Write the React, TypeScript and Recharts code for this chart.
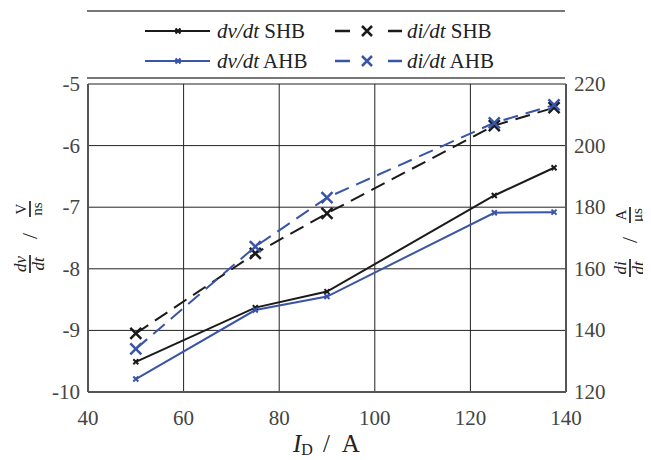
import React from "react";
import { LineChart, Line, XAxis, YAxis, CartesianGrid, Label } from "recharts";

// drain current (A)
const current = [50, 75, 90, 125, 137.5];
// dv/dt in V/ns
const dvSHB = [-9.51, -8.63, -8.37, -6.81, -6.36];
const dvAHB = [-9.79, -8.67, -8.45, -7.09, -7.08];
// di/dt in A/us
const diSHB = [139, 165, 178, 206.5, 212.3];
const diAHB = [134, 167.2, 183.1, 207.4, 213.2];

const xTicks = [40, 60, 80, 100, 120, 140];
const dvTicks = [-10, -9, -8, -7, -6, -5];
const diTicks = [120, 140, 160, 180, 200, 220];

const data = current.map((c, i) => ({
  current: c,
  dvSHB: dvSHB[i],
  dvAHB: dvAHB[i],
  diSHB: diSHB[i],
  diAHB: diAHB[i],
}));

const BLACK = "#1a1a1a";
const BLUE = "#3a54a6";
const FONT = "Liberation Serif, DejaVu Serif, serif";

const crossDot = (size: number, color: string, width: number) => (props: any) => {
  const { cx, cy, index } = props;
  if (cx == null || cy == null) return <g key={index} />;
  return (
    <path
      key={index}
      d={`M${cx - size},${cy - size}L${cx + size},${cy + size}M${cx - size},${cy + size}L${cx + size},${cy - size}`}
      stroke={color}
      strokeWidth={width}
      fill="none"
    />
  );
};

// tick text renderers
const tickText = (anchor: string, dx: number, dy: number) => (props: any) => {
  const { x, y, payload } = props;
  return (
    <text x={x + dx} y={y + dy} textAnchor={anchor} fontFamily={FONT} fontSize={21} fill="#444">
      {payload.value}
    </text>
  );
};

// vertical fraction label, drawn rotated -90deg around (cx, cy)
const FracLabel = ({ cx, cy, num, den, unum, uden, fx, ux }: any) => (
  <g transform={`translate(${cx},${cy}) rotate(-90)`} fontFamily={FONT} fill="#222">
    <text x={fx} y={-4} textAnchor="middle" fontStyle="italic" fontSize={17}>{num}</text>
    <line x1={fx - 9} x2={fx + 9} y1={0} y2={0} stroke="#222" strokeWidth={1.7} />
    <text x={fx} y={14} textAnchor="middle" fontStyle="italic" fontSize={17}>{den}</text>
    <text x={0} y={7} textAnchor="middle" fontSize={22}>/</text>
    <text x={ux} y={-4} textAnchor="middle" fontSize={15}>{unum}</text>
    <line x1={ux - 8} x2={ux + 8} y1={0} y2={0} stroke="#222" strokeWidth={1.7} />
    <text x={ux} y={12} textAnchor="middle" fontSize={15}>{uden}</text>
  </g>
);

const LegendItem = ({ color, dashed, name, unit }: any) => (
  <div style={{ display: "flex", alignItems: "center", height: 30 }}>
    <svg width={72} height={20}>
      {dashed ? (
        <g stroke={color} strokeWidth={2.5}>
          <line x1={2} x2={17} y1={10} y2={10} />
          <path d="M29,5L39,15M29,15L39,5" />
          <line x1={55} x2={69} y1={10} y2={10} />
        </g>
      ) : (
        <g stroke={color} strokeWidth={2.2}>
          <line x1={2} x2={67} y1={10} y2={10} />
          <path d="M32.5,7.5L37.5,12.5M32.5,12.5L37.5,7.5" />
        </g>
      )}
    </svg>
    <span style={{ fontFamily: FONT, fontSize: 21, color: "#222", marginLeft: 2 }}>
      <i>{unit}</i> {name}
    </span>
  </div>
);

export default function App() {
  return (
    <div style={{ position: "relative", width: 643, height: 452, fontFamily: FONT }}>
      <LineChart
        width={643}
        height={452}
        data={data}
        margin={{ top: 76, right: 25, left: 20, bottom: 5 }}
      >
        <CartesianGrid yAxisId="left" stroke="#222" strokeWidth={1} horizontalValues={dvTicks} verticalValues={xTicks} />
        <XAxis
          dataKey="current"
          type="number"
          domain={[40, 140]}
          ticks={xTicks}
          height={63}
          tickLine={false}
          axisLine={{ stroke: "#555", strokeWidth: 2 }}
          tick={tickText("middle", 0, 25)}
        >
          <Label
            content={() => (
              <text x={285} y={444} fontFamily={FONT} fontSize={25} fill="#222">
                <tspan fontStyle="italic">I</tspan>
                <tspan fontSize={16} dy={3}>D</tspan>
                <tspan dy={-3} dx={10}>/</tspan>
                <tspan dx={12}>A</tspan>
              </text>
            )}
          />
        </XAxis>
        <YAxis
          yAxisId="left"
          domain={[-10, -5]}
          ticks={dvTicks}
          width={60}
          tickLine={false}
          axisLine={{ stroke: "#555", strokeWidth: 2 }}
          tick={tickText("end", 0, 7)}
        >
          <Label
            content={() => (
              <FracLabel cx={22} cy={228} num="dv" den="dt" unum="V" uden="ns" fx={-28} ux={27} />
            )}
          />
        </YAxis>
        <YAxis
          yAxisId="right"
          orientation="right"
          domain={[120, 220]}
          ticks={diTicks}
          width={60}
          tickLine={false}
          axisLine={{ stroke: "#555", strokeWidth: 2 }}
          tick={tickText("start", 0, 7)}
        >
          <Label
            content={() => (
              <FracLabel cx={622} cy={232} num="di" den="dt" unum="A" uden="μs" fx={-28} ux={25} />
            )}
          />
        </YAxis>
        <Line
          yAxisId="left"
          dataKey="dvSHB"
          stroke={BLACK}
          strokeWidth={2}
          dot={crossDot(2.5, BLACK, 2)}
          isAnimationActive={false}
        />
        <Line
          yAxisId="left"
          dataKey="dvAHB"
          stroke={BLUE}
          strokeWidth={2}
          dot={crossDot(2.5, BLUE, 2)}
          isAnimationActive={false}
        />
        <Line
          yAxisId="right"
          dataKey="diSHB"
          stroke={BLACK}
          strokeWidth={2}
          strokeDasharray="15 8"
          dot={crossDot(5.5, BLACK, 2.5)}
          isAnimationActive={false}
        />
        <Line
          yAxisId="right"
          dataKey="diAHB"
          stroke={BLUE}
          strokeWidth={2}
          strokeDasharray="15 8"
          dot={crossDot(5.5, BLUE, 2.5)}
          isAnimationActive={false}
        />
      </LineChart>
      <div
        style={{
          position: "absolute",
          left: 79,
          top: 2,
          width: 478,
          height: 69,
          borderTop: "2px solid #777",
          borderBottom: "2px solid #777",
          boxSizing: "border-box",
          display: "grid",
          gridTemplateColumns: "190px 200px",
          paddingLeft: 56,
          paddingTop: 3,
          alignContent: "center",
        }}
      >
        <LegendItem color={BLACK} name="SHB" unit="dv/dt" />
        <LegendItem color={BLACK} dashed name="SHB" unit="di/dt" />
        <LegendItem color={BLUE} name="AHB" unit="dv/dt" />
        <LegendItem color={BLUE} dashed name="AHB" unit="di/dt" />
      </div>
    </div>
  );
}
